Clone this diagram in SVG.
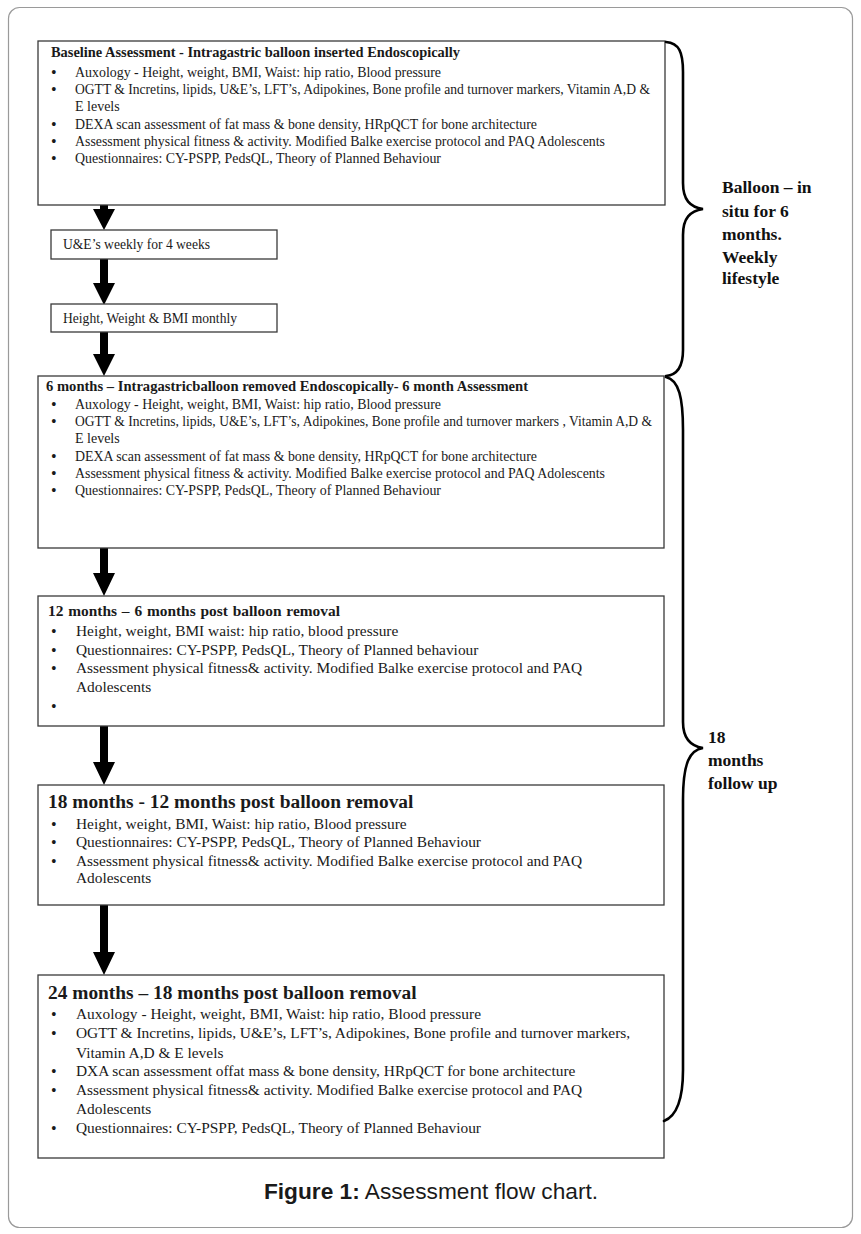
<svg xmlns="http://www.w3.org/2000/svg" width="861" height="1234" viewBox="0 0 861 1234">
<style>
.frame{fill:#fff;stroke:#9a9a9a;stroke-width:1.2}
.box{fill:#fff;stroke:#3a3a3a;stroke-width:1.3}
.t{font-family:"Liberation Serif","Times New Roman",serif;fill:#1a1a1a}
.s14{font-size:14px}
.s15{font-size:15.4px}
.b{font-weight:bold}
.bul{font-family:"Liberation Serif","Times New Roman",serif;fill:#1a1a1a;font-size:16px}
.brace{fill:none;stroke:#000;stroke-width:2.6;stroke-linecap:round}
.lbl{font-family:"Liberation Serif","Times New Roman",serif;font-weight:bold;font-size:17.5px;fill:#111}
.arrow{fill:#000}
.cap{font-family:"Liberation Sans",Arial,sans-serif;font-size:22.7px;fill:#1a1a1a}
</style>
<rect class="frame" x="8.5" y="7.5" width="844" height="1220" rx="11"/>

<g id="connectors">
<path class="arrow" d="M100,205 L108,205 L108,209 L115,209 L104,230 L93,209 L100,209 Z"/>
<path class="arrow" d="M100,259 L108,259 L108,283 L115,283 L104,305 L93,283 L100,283 Z"/>
<path class="arrow" d="M100,331 L108,331 L108,354 L115,354 L104,376 L93,354 L100,354 Z"/>
<path class="arrow" d="M100,520 L108,520 L108,573 L115,573 L104,596 L93,573 L100,573 Z"/>
<path class="arrow" d="M100,711 L108,711 L108,762 L115,762 L104,785 L93,762 L100,762 Z"/>
<path class="arrow" d="M100,905 L108,905 L108,952 L115,952 L104,975 L93,952 L100,952 Z"/>
</g>

<g id="baseline">
<rect class="box" x="38" y="41" width="627" height="164"/>
<text class="t s14 b" x="51" y="57" textLength="409" lengthAdjust="spacingAndGlyphs">Baseline Assessment - Intragastric balloon inserted Endoscopically</text>
<text class="bul" x="51" y="78">•</text>
<text class="t s14" x="75" y="77" textLength="366" lengthAdjust="spacingAndGlyphs">Auxology - Height, weight, BMI, Waist: hip ratio, Blood pressure</text>
<text class="bul" x="51" y="95">•</text>
<text class="t s14" x="75" y="94" textLength="575" lengthAdjust="spacingAndGlyphs">OGTT &amp; Incretins, lipids, U&amp;E’s, LFT’s, Adipokines, Bone profile and turnover markers, Vitamin A,D &amp;</text>
<text class="t s14" x="75" y="111">E levels</text>
<text class="bul" x="51" y="130">•</text>
<text class="t s14" x="75" y="129" textLength="462" lengthAdjust="spacingAndGlyphs">DEXA scan assessment of fat mass &amp; bone density, HRpQCT for bone architecture</text>
<text class="bul" x="51" y="147">•</text>
<text class="t s14" x="75" y="146" textLength="530" lengthAdjust="spacingAndGlyphs">Assessment physical fitness &amp; activity. Modified Balke exercise protocol and PAQ Adolescents</text>
<text class="bul" x="51" y="164">•</text>
<text class="t s14" x="75" y="163" textLength="366" lengthAdjust="spacingAndGlyphs">Questionnaires: CY-PSPP, PedsQL, Theory of Planned Behaviour</text>
</g>

<g id="ue-weekly">
<rect class="box" x="51" y="230" width="226" height="29"/>
<text class="t s14" x="63" y="249" textLength="147" lengthAdjust="spacingAndGlyphs">U&amp;E’s weekly for 4 weeks</text>
</g>

<g id="hw-monthly">
<rect class="box" x="51" y="304" width="226" height="28"/>
<text class="t s14" x="63" y="323" textLength="174" lengthAdjust="spacingAndGlyphs">Height, Weight &amp; BMI monthly</text>
</g>

<g id="m6">
<rect class="box" x="38" y="376" width="626" height="172"/>
<text class="t s14 b" x="46" y="391" textLength="482" lengthAdjust="spacingAndGlyphs">6 months – Intragastricballoon removed Endoscopically- 6 month Assessment</text>
<text class="bul" x="51" y="410">•</text>
<text class="t s14" x="75" y="409" textLength="366" lengthAdjust="spacingAndGlyphs">Auxology - Height, weight, BMI, Waist: hip ratio, Blood pressure</text>
<text class="bul" x="51" y="427">•</text>
<text class="t s14" x="75" y="426" textLength="577" lengthAdjust="spacingAndGlyphs">OGTT &amp; Incretins, lipids, U&amp;E’s, LFT’s, Adipokines, Bone profile and turnover markers , Vitamin A,D &amp;</text>
<text class="t s14" x="75" y="443">E levels</text>
<text class="bul" x="51" y="462">•</text>
<text class="t s14" x="75" y="461" textLength="462" lengthAdjust="spacingAndGlyphs">DEXA scan assessment of fat mass &amp; bone density, HRpQCT for bone architecture</text>
<text class="bul" x="51" y="479">•</text>
<text class="t s14" x="75" y="478" textLength="530" lengthAdjust="spacingAndGlyphs">Assessment physical fitness &amp; activity. Modified Balke exercise protocol and PAQ Adolescents</text>
<text class="bul" x="51" y="496">•</text>
<text class="t s14" x="75" y="495" textLength="366" lengthAdjust="spacingAndGlyphs">Questionnaires: CY-PSPP, PedsQL, Theory of Planned Behaviour</text>
</g>

<g id="m12">
<rect class="box" x="38" y="596" width="626" height="130"/>
<text class="t s15 b" font-size="15" x="48" y="616" word-spacing="1">12 months – 6 months post balloon removal</text>
<text class="bul" x="51" y="637">•</text>
<text class="t s15" x="76" y="636">Height, weight, BMI waist: hip ratio, blood pressure</text>
<text class="bul" x="51" y="656">•</text>
<text class="t s15" x="76" y="655">Questionnaires: CY-PSPP, PedsQL, Theory of Planned behaviour</text>
<text class="bul" x="51" y="674">•</text>
<text class="t s15" x="76" y="673">Assessment physical fitness&amp; activity. Modified Balke exercise protocol and PAQ</text>
<text class="t s15" x="76" y="692">Adolescents</text>
<text class="bul" x="51" y="712">•</text>
</g>

<g id="m18">
<rect class="box" x="38" y="785" width="626" height="120"/>
<text class="t b" font-size="19.4" x="48" y="808">18 months - 12 months post balloon removal</text>
<text class="bul" x="51" y="830">•</text>
<text class="t s15" x="76" y="829">Height, weight, BMI, Waist: hip ratio, Blood pressure</text>
<text class="bul" x="51" y="848">•</text>
<text class="t s15" x="76" y="847">Questionnaires: CY-PSPP, PedsQL, Theory of Planned Behaviour</text>
<text class="bul" x="51" y="867">•</text>
<text class="t s15" x="76" y="866">Assessment physical fitness&amp; activity. Modified Balke exercise protocol and PAQ</text>
<text class="t s15" x="76" y="883">Adolescents</text>
</g>

<g id="m24">
<rect class="box" x="38" y="975" width="626" height="183"/>
<text class="t b" font-size="19.4" x="48" y="999">24 months – 18 months post balloon removal</text>
<text class="bul" x="51" y="1020">•</text>
<text class="t s15" x="76" y="1019">Auxology - Height, weight, BMI, Waist: hip ratio, Blood pressure</text>
<text class="bul" x="51" y="1039">•</text>
<text class="t s15" x="76" y="1038">OGTT &amp; Incretins, lipids, U&amp;E’s, LFT’s, Adipokines, Bone profile and turnover markers,</text>
<text class="t s15" x="76" y="1058">Vitamin A,D &amp; E levels</text>
<text class="bul" x="51" y="1077">•</text>
<text class="t s15" x="76" y="1076">DXA scan assessment offat mass &amp; bone density, HRpQCT for bone architecture</text>
<text class="bul" x="51" y="1096">•</text>
<text class="t s15" x="76" y="1095">Assessment physical fitness&amp; activity. Modified Balke exercise protocol and PAQ</text>
<text class="t s15" x="76" y="1114">Adolescents</text>
<text class="bul" x="51" y="1134">•</text>
<text class="t s15" x="76" y="1133">Questionnaires: CY-PSPP, PedsQL, Theory of Planned Behaviour</text>
</g>

<g id="brace-balloon">
<path class="brace" d="M666,42 C679,43 683,52 683,72 L683,183 C683,200 690,207 703,209 C690,211 683,218 683,235 L683,350 C683,367 677,375 666,376"/>
<text class="lbl" x="722" y="193">Balloon – in</text>
<text class="lbl" x="722" y="217">situ for 6</text>
<text class="lbl" x="722" y="240">months.</text>
<text class="lbl" x="722" y="263">Weekly</text>
<text class="lbl" x="722" y="284">lifestyle</text>
</g>

<g id="brace-followup">
<path class="brace" d="M666,377 C679,380 683,398 683,430 L683,722 C683,738 690,746 703,748 C690,750 683,762 683,800 L683,1070 C683,1100 677,1116 664,1121"/>
<text class="lbl" x="708" y="743">18</text>
<text class="lbl" x="708" y="766">months</text>
<text class="lbl" x="708" y="789">follow up</text>
</g>

<text class="cap" x="431" y="1199" text-anchor="middle"><tspan font-weight="bold">Figure 1:</tspan> Assessment flow chart.</text>
</svg>
